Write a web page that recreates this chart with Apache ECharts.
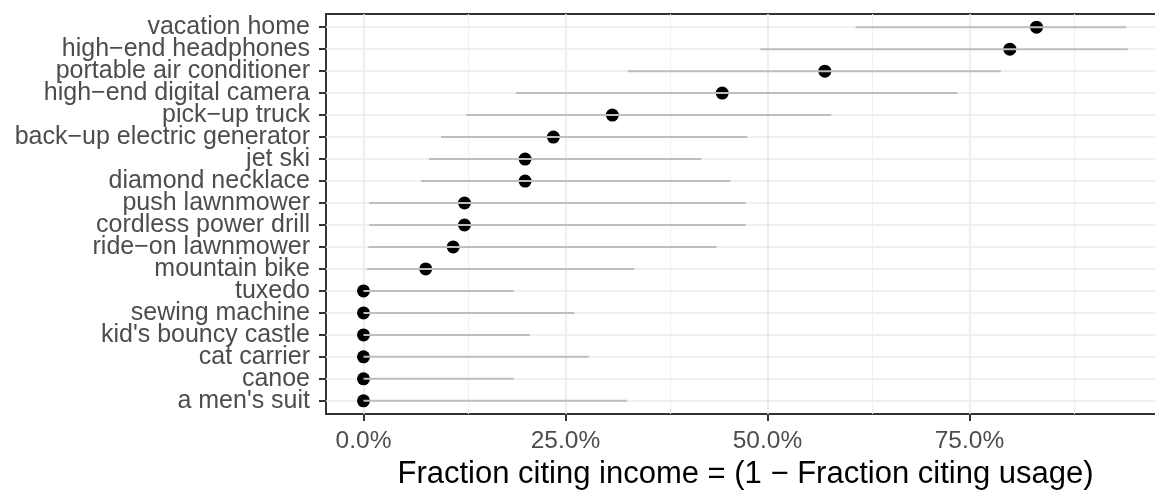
<!DOCTYPE html>
<html>
<head>
<meta charset="utf-8">
<script src="https://cdn.jsdelivr.net/npm/echarts@6/dist/echarts.min.js"></script>
<style>
  html, body { margin: 0; padding: 0; background: #ffffff; }
  #chart { width: 1155px; height: 490px; }
</style>
</head>
<body>
<div id="chart"></div>
<script>
// Items, top to bottom
const items = [
  'vacation home', 'high\u2212end headphones', 'portable air conditioner',
  'high\u2212end digital camera', 'pick\u2212up truck', 'back\u2212up electric generator',
  'jet ski', 'diamond necklace', 'push lawnmower', 'cordless power drill',
  'ride\u2212on lawnmower', 'mountain bike', 'tuxedo', 'sewing machine',
  "kid's bouncy castle", 'cat carrier', 'canoe', "a men's suit"
];

// Fraction citing income (point estimate)
const incomeShare = [0.833, 0.800, 0.571, 0.444, 0.308, 0.235, 0.200, 0.200, 0.125,
                     0.125, 0.111, 0.077, 0, 0, 0, 0, 0, 0];

// Interval lower / upper bounds
const lowerBound = [0.609, 0.491, 0.327, 0.189, 0.127, 0.096, 0.081, 0.071, 0.007,
                    0.007, 0.006, 0.004, 0, 0, 0, 0, 0, 0];
const upperBound = [0.944, 0.946, 0.789, 0.735, 0.579, 0.475, 0.418, 0.454, 0.473,
                    0.473, 0.437, 0.335, 0.186, 0.261, 0.206, 0.279, 0.186, 0.326];

// Axis ticks
const xMajorTicks = [0, 0.25, 0.5, 0.75];
const xMinorTicks = [0.125, 0.375, 0.625, 0.875];

const FONT = "'Liberation Sans', Arial, sans-serif";
const rowIdx = items.map((_, i) => i);

// Panel geometry: rows sit 0.6 of a step in from the panel edges
const PANEL_TOP = 14, PANEL_BOTTOM = 76, PANEL_H = 490 - PANEL_TOP - PANEL_BOTTOM;
const STEP = PANEL_H / (items.length - 1 + 1.2);
const BAND_PAD = 0.1 * STEP;   // category bands start 0.5 step before the first row

const chart = echarts.init(document.getElementById('chart'), null, { renderer: 'canvas' });

const gridLineData = []
  .concat(rowIdx.map(i => ({ yAxis: i, lineStyle: { color: '#ebebeb', width: 1.7 } })))
  .concat(xMinorTicks.map(v => ({ xAxis: v, lineStyle: { color: '#f0f0f0', width: 1 } })))
  .concat(xMajorTicks.map(v => ({ xAxis: v, lineStyle: { color: '#ebebeb', width: 1.7 } })));

chart.setOption({
  animation: false,
  backgroundColor: '#ffffff',
  grid: [
    {
      left: 326, top: PANEL_TOP, right: -10, bottom: PANEL_BOTTOM,
      outerBoundsMode: 'none', containLabel: false,
      show: true, borderColor: '#333333', borderWidth: 2, backgroundColor: 'transparent'
    },
    {
      // label grid: category bands aligned with the rows of the panel
      left: 326, top: PANEL_TOP + BAND_PAD, right: -10, bottom: PANEL_BOTTOM + BAND_PAD,
      outerBoundsMode: 'none', containLabel: false,
      show: false
    }
  ],
  xAxis: [
    {
      type: 'value', gridIndex: 0,
      min: -0.0464, max: 0.992,
      name: 'Fraction citing income = (1 \u2212 Fraction citing usage)',
      nameLocation: 'middle',
      nameGap: 40,
      nameTextStyle: { fontFamily: FONT, fontSize: 31, color: '#000000' },
      axisLine: { show: false, onZero: false },
      axisTick: { show: true, customValues: xMajorTicks, length: 7, lineStyle: { color: '#333333', width: 2 } },
      axisLabel: {
        customValues: xMajorTicks, margin: 15, hideOverlap: false,
        fontFamily: FONT, fontSize: 24.5, color: '#4d4d4d',
        formatter: v => (v * 100).toFixed(1) + '%'
      },
      splitLine: { show: false }
    },
    {
      type: 'value', gridIndex: 1, min: 0, max: 1, show: false
    }
  ],
  yAxis: [
    {
      type: 'value', gridIndex: 0,
      inverse: true,
      min: -0.6, max: 17.6,
      axisLine: { show: false, onZero: false },
      axisTick: { show: false },
      axisLabel: { show: false },
      splitLine: { show: false }
    },
    {
      type: 'category', gridIndex: 1,
      inverse: true,
      boundaryGap: true,
      data: items,
      axisLine: { show: false, onZero: false },
      axisTick: { show: true, alignWithLabel: true, interval: 0, length: 7, lineStyle: { color: '#333333', width: 2 } },
      axisLabel: {
        interval: 0, margin: 16, hideOverlap: false,
        fontFamily: FONT, fontSize: 25, color: '#4d4d4d'
      },
      splitLine: { show: false }
    }
  ],
  series: [
    {
      // panel grid lines
      type: 'scatter', data: [], z: 1, silent: true,
      xAxisIndex: 0, yAxisIndex: 0,
      markLine: {
        z: 1, silent: true, symbol: ['none', 'none'], animation: false,
        label: { show: false },
        lineStyle: { type: 'solid' },
        emphasis: { disabled: true },
        data: gridLineData
      }
    },
    {
      // point estimates
      type: 'scatter', z: 3, silent: true,
      xAxisIndex: 0, yAxisIndex: 0,
      symbol: 'circle', symbolSize: 13,
      itemStyle: { color: '#000000', opacity: 1 },
      data: incomeShare.map((v, i) => [v, i])
    },
    {
      // interval segments, drawn over the points
      type: 'custom', z: 4, silent: true,
      xAxisIndex: 0, yAxisIndex: 0,
      data: rowIdx.map(i => [lowerBound[i], upperBound[i], i]),
      renderItem: (params, api) => {
        const a = api.coord([api.value(0), api.value(2)]);
        const b = api.coord([api.value(1), api.value(2)]);
        return {
          type: 'line',
          shape: { x1: a[0], y1: a[1], x2: b[0], y2: b[1] },
          style: { stroke: '#bebebe', lineWidth: 2 }
        };
      }
    }
  ]
});
</script>
</body>
</html>
